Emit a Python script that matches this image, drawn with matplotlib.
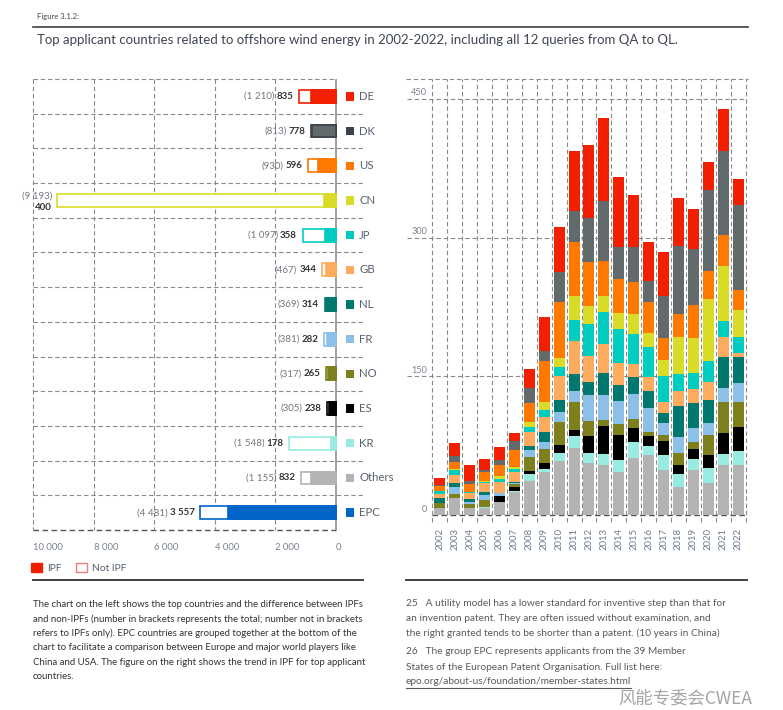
import matplotlib.pyplot as plt
from matplotlib.patches import Patch
from matplotlib.lines import Line2D

OUT_FILE = "out.png"
W, H = 783, 710

plt.rcParams["font.family"] = ["Lato", "DejaVu Sans"]

# left chart: totals (in brackets) and IPF counts
countries = ["DE", "DK", "US", "CN", "JP", "GB", "NL", "FR", "NO", "ES", "KR", "Others", "EPC"]
totals = [1210, 813, 930, 9193, 1097, 467, 369, 381, 317, 305, 1548, 1155, 4481]
ipf = [835, 778, 596, 400, 358, 344, 314, 282, 265, 238, 178, 832, 3557]

fills = ["#f21f00", "#636a6c", "#ff7800", "#d8dc26", "#00cdbf", "#fdab5e", "#00786e",
         "#8dc0e8", "#7e7f1d", "#000000", "#97ebe1", "#b3b3b3", "#0064c8"]
edges = ["#f21f00", "#3b4249", "#ff7800", "#d8dc26", "#00cdbf", "#fdab5e", "#00786e",
         "#8dc0e8", "#7e7f1d", "#000000", "#97ebe1", "#b3b3b3", "#0064c8"]
keys = ["#f21f00", "#3b4249", "#ff7800", "#d8dc26", "#00cdbf", "#fdab5e", "#00786e",
        "#8dc0e8", "#7e7f1d", "#000000", "#97ebe1", "#b3b3b3", "#0064c8"]

left_ticks = [10000, 8000, 6000, 4000, 2000, 0]
left_tick_labels = ["10 000", "8 000", "6 000", "4 000", "2 000", "0"]

# right chart: IPF per year, stacked bottom -> top
years = list(range(2002, 2023))
stack_names = ["Others", "KR", "ES", "NO", "FR", "NL", "GB", "JP", "CN", "US", "DK", "DE"]
others = [8, 18, 8, 8, 14, 25, 37, 47, 58, 72, 56, 54, 47, 62, 65, 49, 30, 49, 35, 54, 54]
kr = [0, 0, 0, 1, 0, 1, 7, 3, 9, 13, 11, 12, 12, 17, 10, 16, 14, 12, 16, 12, 15]
es = [0, 0, 0, 0, 7, 4, 4, 6, 9, 7, 18, 30, 28, 15, 10, 15, 10, 10, 14, 23, 26]
no = [5, 5, 4, 7, 0, 3, 15, 15, 24, 30, 17, 7, 11, 10, 5, 7, 13, 8, 22, 33, 27]
fr = [0, 7, 2, 6, 3, 2, 7, 8, 11, 12, 28, 27, 25, 27, 26, 12, 17, 15, 12, 15, 21]
nl = [5, 5, 3, 3, 0, 1, 5, 11, 13, 18, 14, 24, 17, 18, 18, 11, 34, 27, 25, 34, 28]
gb = [5, 8, 7, 10, 12, 11, 15, 16, 26, 36, 28, 31, 24, 14, 15, 12, 16, 15, 20, 21, 4]
jp = [3, 6, 1, 1, 3, 3, 5, 8, 10, 23, 34, 34, 37, 33, 33, 28, 18, 18, 22, 18, 17]
cn = [0, 1, 0, 1, 3, 2, 5, 8, 10, 26, 20, 18, 17, 21, 15, 18, 40, 37, 67, 59, 30]
us = [5, 7, 9, 9, 12, 18, 21, 45, 60, 58, 48, 38, 37, 35, 33, 23, 25, 36, 31, 34, 21]
dk = [1, 7, 3, 3, 5, 10, 16, 10, 33, 34, 47, 64, 35, 38, 23, 46, 74, 61, 87, 91, 92]
de = [8, 14, 17, 12, 15, 9, 21, 37, 48, 65, 79, 90, 75, 56, 42, 47, 52, 43, 31, 45, 28]
stack_values = [others, kr, es, no, fr, nl, gb, jp, cn, us, dk, de]
right_ticks = [0, 150, 300, 450]

title = "Top applicant countries related to offshore wind energy in 2002-2022, including all 12 queries from QA to QL."
left_notes = [
    "The chart on the left shows the top countries and the difference between IPFs",
    "and non-IPFs (number in brackets represents the total; number not in brackets",
    "refers to IPFs only). EPC countries are grouped together at the bottom of the",
    "chart to facilitate a comparison between Europe and major world players like",
    "China and USA. The figure on the right shows the trend in IPF for top applicant",
    "countries.",
]
right_notes = [
    "25   A utility model has a lower standard for inventive step than that for",
    "an invention patent. They are often issued without examination, and",
    "the right granted tends to be shorter than a patent. (10 years in China)",
    "26   The group EPC represents applicants from the 39 Member",
    "States of the European Patent Organisation. Full list here:",
]
url = "epo.org/about-us/foundation/member-states.html"

GRID = "#8a8a8a"
DASH = (0, (4, 2.5))


def fx(px):
    return px / W


def fy(py):
    return 1 - py / H


def fig_line(fig, x0, x1, y, **kw):
    fig.add_artist(Line2D([fx(x0), fx(x1)], [fy(y), fy(y)], transform=fig.transFigure, **kw))


def fmt(v):
    return f"{v:,}".replace(",", " ")


def main():
    fig = plt.figure(figsize=(W / 100, H / 100), dpi=100)

    # header
    fig.text(fx(37), fy(17), "Figure 3.1.2:", fontsize=5.5, color="#444444", va="center")
    fig_line(fig, 33, 748, 27, color="#3c4248", lw=1.2)
    fig.text(fx(37), fy(40), title, fontsize=9.5, color="#3d4652", va="center")

    # ---------------- left chart ----------------
    ax1 = fig.add_axes([fx(33), fy(530), (363 - 33) / W, (530 - 79) / H])
    n = len(countries)
    rows = list(range(n))
    ax1.set_xlim(10000, -891)
    ax1.set_ylim(n - 0.5, -0.5)
    for s in ax1.spines.values():
        s.set_visible(False)
    ax1.set_yticks([])

    ax1.hlines([r + 0.5 for r in rows[:-1]], 10000, -891, color=GRID, lw=0.8, linestyle=DASH, clip_on=False)
    ax1.hlines(-0.5, 10000, 0, color=GRID, lw=0.8, linestyle=DASH, clip_on=False)
    ax1.hlines(n - 0.5, 10000, 0, color="#555555", lw=1.0, linestyle=DASH, clip_on=False)
    ax1.vlines(left_ticks[:-1], -0.5, n - 0.5, color=GRID, lw=0.8, linestyle=DASH, clip_on=False)
    ax1.vlines(0, -0.5, n - 0.5, color="#8f8f8f", lw=1.2, clip_on=False)

    ax1.barh(rows, totals, height=0.37, color="white", edgecolor=edges, linewidth=1.2, zorder=3)
    ax1.barh(rows, ipf, height=0.37, color=fills, edgecolor=edges, linewidth=1.2, zorder=4)

    for r in rows:
        if countries[r] == "CN":
            ax1.text(totals[r] + 180, r - 0.12, f"({fmt(totals[r])})", ha="right", va="center",
                     fontsize=7, color="#707780")
            ax1.text(totals[r] + 180, r + 0.2, fmt(ipf[r]), ha="right", va="center",
                     fontsize=7, fontweight="bold", color="#333333")
        else:
            b = ax1.text(totals[r] + 190, r, fmt(ipf[r]), ha="right", va="center",
                         fontsize=7, fontweight="bold", color="#333333")
            ax1.annotate(f"({fmt(totals[r])})", xy=(0, 0.5), xycoords=b, xytext=(-1.5, 0),
                         textcoords="offset points", ha="right", va="center",
                         fontsize=7, color="#707780")

    ax1.barh(rows, -274, left=-320, height=0.24, color=keys, zorder=3, clip_on=False)
    for r in rows:
        ax1.text(-759, r, countries[r], ha="left", va="center", fontsize=8.2, color="#55606e")

    ax1.set_xticks(left_ticks)
    ax1.set_xticklabels(left_tick_labels, fontsize=6.8, color="#7a8290")
    for lab in ax1.get_xticklabels():
        lab.set_ha("left")
    ax1.tick_params(axis="x", length=0, pad=9)

    fig.legend(handles=[Patch(facecolor="#f21f00", edgecolor="#f21f00"),
                        Patch(facecolor="white", edgecolor="#ee7a82")],
               labels=["IPF", "Not IPF"], loc="center left",
               bbox_to_anchor=(fx(31), fy(568)), ncol=2, frameon=False, fontsize=7.4,
               handlelength=1.05, handleheight=1.05, handletextpad=0.5, columnspacing=1.4,
               labelcolor="#55606e", borderaxespad=0, borderpad=0)

    # ---------------- right chart ----------------
    ax2 = fig.add_axes([fx(407), fy(522), (746 - 407) / W, (522 - 79) / H])
    ax2.set_xlim(1999.81, 2022.52)
    ax2.set_ylim(-7.6, 471.4)
    for s in ax2.spines.values():
        s.set_visible(False)
    ax2.set_yticks([])

    edges_x = [y - 0.5 for y in years] + [years[-1] + 0.5]
    ax2.vlines(edges_x, -7.6, 471.4, color=GRID, lw=0.8, linestyle=DASH, clip_on=False, zorder=1)
    ax2.hlines(right_ticks[1:], 1999.81, 2022.52, color=GRID, lw=0.8, linestyle=DASH, zorder=1)
    ax2.hlines(0, years[0] - 0.5, years[-1] + 0.5, color="#555555", lw=1.0, linestyle=DASH, zorder=1)
    for v in right_ticks:
        ax2.text(2001.15, v + 1.5, str(v), ha="right", va="bottom", fontsize=6.6, color="#7a8290")

    key_of = dict(zip(countries, fills))
    bottom = [0] * len(years)
    for name, vals in zip(stack_names, stack_values):
        ax2.bar(years, vals, width=0.74, bottom=bottom, color=key_of[name], linewidth=0, zorder=3)
        bottom = [b + v for b, v in zip(bottom, vals)]

    ax2.set_xticks(years)
    ax2.set_xticklabels([str(y) for y in years], rotation=90, fontsize=6.8, color="#6c7b8f")
    ax2.tick_params(axis="x", length=0, pad=4)

    fig_line(fig, 406, 748, 79, color=GRID, lw=0.8, linestyle=DASH)

    # ---------------- footer ----------------
    fig_line(fig, 33, 363, 580, color="#3c4248", lw=1.4)
    fig_line(fig, 406, 747, 580, color="#3c4248", lw=1.4)

    for i, line in enumerate(left_notes):
        fig.text(fx(33), fy(604.5 + i * 14.4), line, fontsize=6.95, color="#2e3338", va="center")

    right_y = [603.5, 618.5, 633.5, 652, 667, 682]
    for line, y in zip(right_notes, right_y):
        fig.text(fx(406), fy(y), line, fontsize=7.3, color="#55595e", va="center")
    t = fig.text(fx(406), fy(right_y[-1]), url, fontsize=7.3, color="#55595e", va="center")

    fig.canvas.draw()
    bb = t.get_window_extent()
    fig_line(fig, 406, 406 + bb.width, right_y[-1] + 6, color="#55595e", lw=0.8)

    # watermark, nudged below the footnote so it does not cover it
    fig.text(fx(618), fy(699), "风能专委会CWEA", fontsize=12.5, color="#9a9a9a", alpha=0.9,
             va="center", family=["Noto Sans CJK SC", "DejaVu Sans"])

    fig.savefig(OUT_FILE, dpi=100)


if __name__ == "__main__":
    main()
